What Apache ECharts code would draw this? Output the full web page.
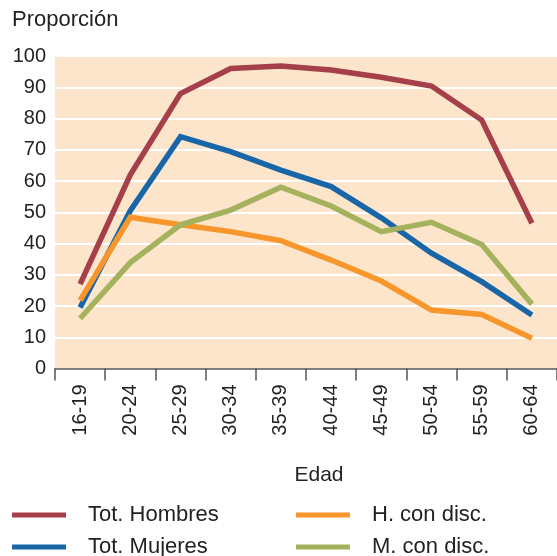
<!DOCTYPE html>
<html>
<head>
<meta charset="utf-8">
<script src="https://cdn.jsdelivr.net/npm/echarts@6/dist/echarts.min.js"></script>
<style>
  html, body { margin: 0; padding: 0; background: #fff; }
  #chart { width: 557px; height: 556px; }
</style>
</head>
<body>
<div id="chart"></div>
<script>
const ageGroups = ['16-19', '20-24', '25-29', '30-34', '35-39', '40-44', '45-49', '50-54', '55-59', '60-64'];
const totHombres = [27, 62, 88, 96, 96.8, 95.5, 93.2, 90.4, 79.5, 46.5];
const totMujeres = [19.5, 50.5, 74.2, 69.4, 63.5, 58.2, 48.2, 36.9, 27.8, 17.1];
const hConDisc = [21.8, 48.4, 46, 43.8, 40.9, 34.7, 28, 18.7, 17.3, 9.7];
const mConDisc = [16, 33.9, 46, 50.7, 58, 52, 43.8, 46.8, 39.7, 20.6];
const yTicks = [0, 10, 20, 30, 40, 50, 60, 70, 80, 90, 100];

const font = 'Liberation Sans';

const makeLine = (name, data, color) => ({
  name: name,
  type: 'line',
  data: data,
  symbol: 'none',
  lineStyle: { color: color, width: 5.5, cap: 'butt', join: 'miter' },
  itemStyle: { color: color }
});

// one legend per entry, laid out by hand in two columns
const makeLegend = (name, left, top) => ({
  data: [name],
  left: left,
  top: top,
  padding: 0,
  icon: 'rect',
  itemWidth: 54,
  itemHeight: 5,
  textStyle: {
    color: '#222',
    fontFamily: font,
    fontSize: 22,
    padding: [0, 0, 0, 17]
  }
});

const chart = echarts.init(document.getElementById('chart'));

chart.setOption({
  animation: false,
  textStyle: { fontFamily: font },
  title: {
    text: 'Proporción',
    left: 7,
    top: 4,
    textStyle: { color: '#222', fontFamily: font, fontSize: 22, fontWeight: 'normal' }
  },
  grid: {
    left: 55,
    top: 56,
    right: -5,
    bottom: 187.5,
    show: true,
    backgroundColor: '#fde5cc',
    borderWidth: 0
  },
  legend: [
    makeLegend('Tot. Hombres', 12, 504),
    makeLegend('Tot. Mujeres', 12, 536),
    makeLegend('H. con disc.', 296, 504),
    makeLegend('M. con disc.', 296, 536)
  ],
  xAxis: {
    type: 'category',
    data: ageGroups,
    boundaryGap: true,
    name: 'Edad',
    nameLocation: 'middle',
    nameGap: 96,
    nameTextStyle: { color: '#222', fontSize: 21, fontFamily: font, padding: [0, 0, 0, 26] },
    axisLine: { show: true, lineStyle: { color: '#555', width: 1.5 } },
    axisTick: { show: true, length: 12, interval: 0, lineStyle: { color: '#555', width: 1.5 } },
    axisLabel: { rotate: 90, interval: 0, margin: 16, fontSize: 20, color: '#222', fontFamily: font },
    splitLine: { show: false }
  },
  yAxis: {
    type: 'value',
    min: yTicks[0],
    max: yTicks[yTicks.length - 1],
    interval: 10,
    axisLine: { show: false },
    axisTick: { show: false },
    axisLabel: { margin: 9, fontSize: 20, color: '#222', fontFamily: font },
    splitLine: { show: true, lineStyle: { color: '#ffffff', width: 2 } }
  },
  series: [
    makeLine('Tot. Hombres', totHombres, '#a5404a'),
    makeLine('Tot. Mujeres', totMujeres, '#1866a8'),
    makeLine('H. con disc.', hConDisc, '#f7962b'),
    makeLine('M. con disc.', mConDisc, '#a4b25d')
  ]
});
</script>
</body>
</html>
